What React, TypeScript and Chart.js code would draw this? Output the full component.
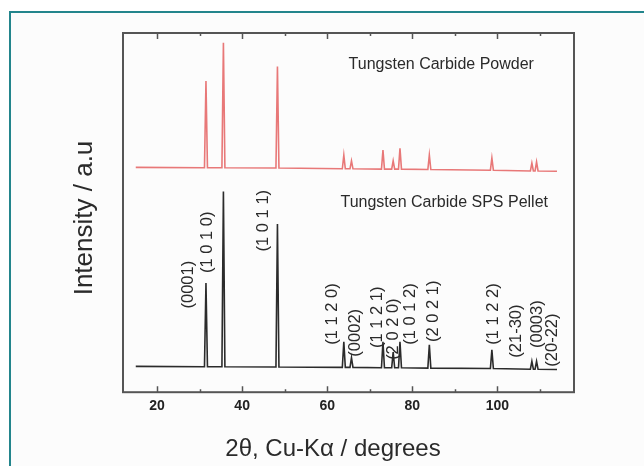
import React, { useEffect, useRef } from "react";
import { Chart, registerables } from "chart.js";

Chart.register(...registerables);

// ---- data ----
const X_TICKS = [20, 40, 60, 80, 100];
const X_MINOR = [30, 50, 70, 90, 110];
const X_MIN = 12;
const X_MAX = 118;

const SCAN_START = 15;
const SCAN_END = 114;

// peak positions (2-theta, degrees)
const TWO_THETA = [31.5, 35.6, 48.3, 63.9, 65.7, 73.1, 75.5, 77.1, 84.0, 98.7, 108.1, 109.2];

// Tungsten Carbide SPS Pellet (black, offset lower)
const PELLET_PEAK = [30.4, 55.9, 46.8, 14.0, 9.6, 14.0, 11.2, 14.0, 13.2, 11.8, 8.6, 8.6];
const PELLET_BASE = [7.1, 7.1, 7.0, 6.9, 6.9, 6.8, 6.8, 6.8, 6.7, 6.6, 6.4, 6.4];
const PELLET_ENDS = [7.2, 6.3];

// Tungsten Carbide Powder (red, offset higher)
const POWDER_PEAK = [86.6, 97.3, 90.7, 66.0, 64.4, 67.4, 64.4, 67.9, 66.0, 65.2, 63.8, 64.1];
const POWDER_BASE = [62.5, 62.5, 62.4, 62.2, 62.2, 62.1, 62.1, 62.1, 62.0, 61.8, 61.6, 61.6];
const POWDER_ENDS = [62.6, 61.5];

// Miller-Bravais index labels (x = 2-theta, y = lower end of the rotated text)
const HKL_TEXT = [
  "(0001)", "(1 0 1 0)", "(1 0 1 1)", "(1 1 2 0)", "(0002)", "(1 1 2 1)",
  "(2 0 2 0)", "(1 0 1 2)", "(2 0 2 1)", "(1 1 2 2)", "(21-30)", "(0003)", "(20-22)",
];
const HKL_X = [27.3, 31.8, 44.9, 61.2, 66.6, 71.8, 75.5, 79.5, 84.9, 99.1, 104.5, 109.4, 112.9];
const HKL_Y = [23.3, 33.2, 39.2, 13.2, 9.9, 12.3, 9.0, 13.2, 14.0, 13.2, 9.6, 12.3, 7.1];

const SERIES_NAMES = ["Tungsten Carbide Powder", "Tungsten Carbide SPS Pellet"];
const NAME_X = [86.8, 87.5];
const NAME_Y = [91.2, 52.9];

const X_TITLE = "2θ, Cu-Kα / degrees";
const Y_TITLE = "Intensity / a.u";

const PEAK_HALF_WIDTH = 0.35;

function buildTrace(base: number[], peaks: number[], ends: number[]) {
  const pts: { x: number; y: number }[] = [{ x: SCAN_START, y: ends[0] }];
  TWO_THETA.forEach((p, i) => {
    pts.push({ x: p - PEAK_HALF_WIDTH, y: base[i] });
    pts.push({ x: p, y: peaks[i] });
    pts.push({ x: p + PEAK_HALF_WIDTH, y: base[i] });
  });
  pts.push({ x: SCAN_END, y: ends[1] });
  return pts;
}

const FONT = "'Liberation Sans', Arial, Helvetica, sans-serif";

const decorPlugin = {
  id: "decor",
  afterDraw(chart: any) {
    const { ctx, chartArea } = chart;
    const xs = chart.scales.x;
    const ys = chart.scales.y;
    const { left, right, top, bottom } = chartArea;
    ctx.save();
    // frame
    ctx.strokeStyle = "#555";
    ctx.lineWidth = 2;
    ctx.strokeRect(left, top, right - left, bottom - top);
    // inward ticks
    ctx.lineWidth = 1.5;
    const drawTick = (v: number, len: number) => {
      const px = Math.round(xs.getPixelForValue(v)) + 0.5;
      ctx.beginPath();
      ctx.moveTo(px, bottom);
      ctx.lineTo(px, bottom - len);
      ctx.moveTo(px, top);
      ctx.lineTo(px, top + len);
      ctx.stroke();
    };
    X_TICKS.forEach((v) => drawTick(v, 6));
    X_MINOR.forEach((v) => drawTick(v, 3));

    // series names
    ctx.fillStyle = "#2a2a2a";
    ctx.font = `16px ${FONT}`;
    ctx.textAlign = "center";
    ctx.textBaseline = "middle";
    SERIES_NAMES.forEach((t, i) => {
      ctx.fillText(t, xs.getPixelForValue(NAME_X[i]), ys.getPixelForValue(NAME_Y[i]));
    });

    // hkl labels (rotated)
    ctx.font = `16.5px ${FONT}`;
    ctx.textAlign = "left";
    ctx.textBaseline = "middle";
    HKL_TEXT.forEach((t, i) => {
      ctx.save();
      ctx.translate(xs.getPixelForValue(HKL_X[i]), ys.getPixelForValue(HKL_Y[i]));
      ctx.rotate(-Math.PI / 2);
      ctx.fillText(t, 0, 0);
      ctx.restore();
    });

    // axis titles
    ctx.fillStyle = "#2a2a2a";
    ctx.font = `24px ${FONT}`;
    ctx.textAlign = "center";
    ctx.textBaseline = "middle";
    ctx.fillText(X_TITLE, 333, 449);
    ctx.save();
    ctx.translate(85, 218);
    ctx.rotate(-Math.PI / 2);
    ctx.font = `26px ${FONT}`;
    ctx.fillText(Y_TITLE, 0, 0);
    ctx.restore();
    ctx.restore();
  },
};

export default function App() {
  const ref = useRef<HTMLCanvasElement>(null);
  useEffect(() => {
    if (!ref.current) return;
    const chart = new Chart(ref.current, {
      type: "line",
      data: {
        datasets: [
          {
            label: SERIES_NAMES[0],
            data: buildTrace(POWDER_BASE, POWDER_PEAK, POWDER_ENDS),
            borderColor: "#e87878",
            borderWidth: 1.6,
            pointRadius: 0,
            tension: 0,
          },
          {
            label: SERIES_NAMES[1],
            data: buildTrace(PELLET_BASE, PELLET_PEAK, PELLET_ENDS),
            borderColor: "#2b2b2b",
            borderWidth: 1.6,
            pointRadius: 0,
            tension: 0,
          },
        ],
      },
      options: {
        responsive: false,
        maintainAspectRatio: false,
        animation: false,
        layout: { padding: { left: 123, top: 33, right: 70, bottom: 45 } },
        plugins: { legend: { display: false }, tooltip: { enabled: false } },
        scales: {
          x: {
            type: "linear",
            min: X_MIN,
            max: X_MAX,
            grid: { display: false, drawTicks: false },
            border: { display: false },
            afterBuildTicks: (scale: any) => {
              scale.ticks = X_TICKS.map((v) => ({ value: v }));
            },
            ticks: {
              padding: 6,
              color: "#222",
              font: { family: FONT, size: 14, weight: "bold" },
              maxRotation: 0,
            },
          },
          y: { display: false, min: 0, max: 100 },
        },
      },
      plugins: [decorPlugin],
    });
    return () => chart.destroy();
  }, []);

  return (
    <div style={{ position: "absolute", left: 0, top: 0, width: 644, height: 466, background: "#fff", overflow: "hidden" }}>
      <div
        style={{
          position: "absolute",
          left: 9,
          top: 11,
          width: 700,
          height: 500,
          borderLeft: "2px solid #23858c",
          borderTop: "2px solid #23858c",
          background: "#fcfcfc",
        }}
      />
      <canvas ref={ref} width={644} height={466} style={{ position: "absolute", left: 0, top: 0 }} />
    </div>
  );
}
